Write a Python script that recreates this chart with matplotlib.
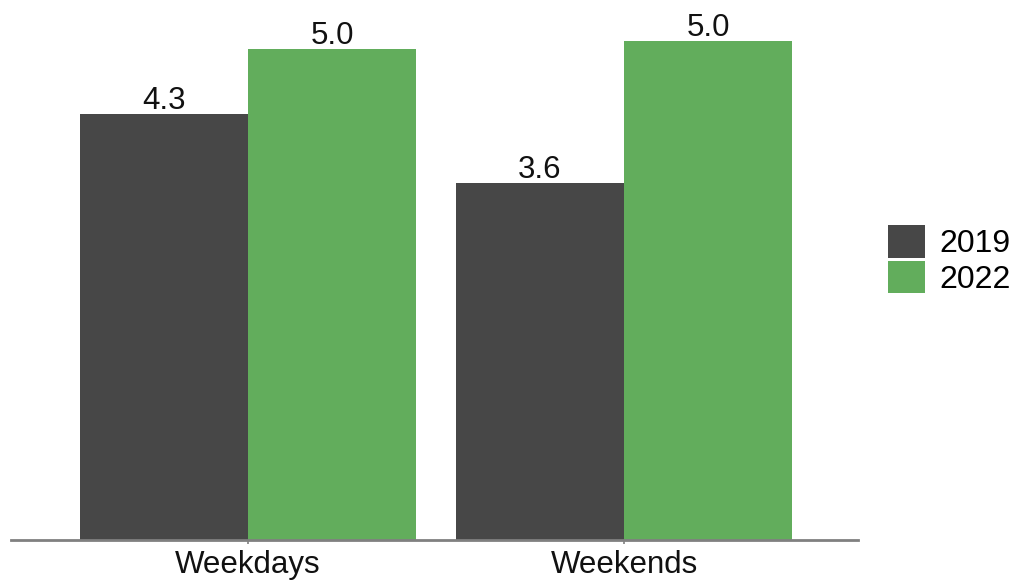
import matplotlib
matplotlib.use("Agg")
import matplotlib.pyplot as plt
from matplotlib.patches import Patch
import numpy as np

categories = ["Weekdays", "Weekends"]
years = ["2019", "2022"]
values_2019 = [4.3, 3.6]
values_2022 = [4.96, 5.04]
colors = ["#474747", "#62AD5C"]

plt.rcParams["font.family"] = ["Liberation Sans", "DejaVu Sans"]

W, H = 1035, 583
fig = plt.figure(figsize=(W / 100, H / 100), dpi=100)
ax = fig.add_axes([11 / W, 43 / H, 847 / W, 540 / H])

x = np.arange(len(categories))
width = 0.447
series = [values_2019, values_2022]
for i, (vals, col) in enumerate(zip(series, colors)):
    offs = (i - 0.5) * width
    bars = ax.bar(x + offs, vals, width, color=col, edgecolor="none", zorder=2)
    for b, v in zip(bars, vals):
        ax.text(b.get_x() + b.get_width() / 2, v - 0.02, f"{v:.1f}",
                ha="center", va="bottom", fontsize=22.5, color="#111111")

ax.set_xlim(-0.63, 1.622)
ax.set_ylim(0, 5.45)
ax.set_xticks(x)
ax.set_xticklabels(categories, fontsize=22.5, color="#111111")
ax.tick_params(axis="x", length=3, width=1.2, color="#808080", pad=4.5)
ax.set_yticks([])
for s in ["top", "right", "left"]:
    ax.spines[s].set_visible(False)
ax.spines["bottom"].set_color("#808080")
ax.spines["bottom"].set_linewidth(2)
ax.spines["bottom"].set_zorder(3)

handles = [Patch(facecolor=c, edgecolor="none") for c in colors]
fig.legend(handles, years, loc="upper left", bbox_to_anchor=(888 / W, 1 - 225 / H),
           frameon=False, fontsize=23, handlelength=1.15, handleheight=1.2,
           handletextpad=0.45, labelspacing=0.05, borderpad=0, borderaxespad=0)

fig.savefig("out.png", dpi=100)
